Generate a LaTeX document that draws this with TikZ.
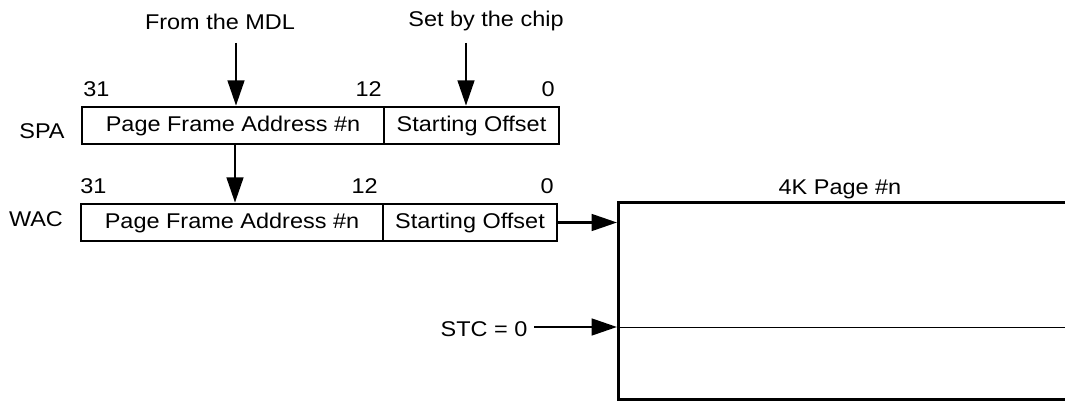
\documentclass[tikz,border=0pt]{standalone}
\usepackage{fontspec}
\setmainfont{Liberation Sans}[FakeStretch=1.1]
\usetikzlibrary{arrows.meta}
\begin{document}
\begin{tikzpicture}[x=0.75pt,y=-0.75pt,
  font=\fontsize{16pt}{19pt}\selectfont,
  field/.style={draw,line width=2pt,minimum height=27.75pt,inner sep=0pt},
  lbl/.style={inner sep=0pt},
  arr/.style={line width=1.9pt,-{Triangle[length=19pt,width=12.5pt]}},
  thin line/.style={line width=0.6pt}]
\useasboundingbox (0,0) rectangle (1065,403);
\clip (0,0) rectangle (1065,403);
% top labels
\node[lbl,anchor=base] (mdl) at (220,30) {From the MDL};
\node[lbl,anchor=base] (chip) at (486,27) {Set by the chip};
\coordinate (mdlTop) at (236,43);
\coordinate (chipTop) at (466,43);
% SPA register
\node[field,minimum width=226.5pt] (spaL) at (233,125.5) {Page Frame Address \#n};
\node[field,minimum width=131.25pt] (spaR) at (471.5,125.5) {Starting Offset};
\node[lbl,anchor=base] (spa) at (42,139) {SPA};
\node[lbl,anchor=base west] (s31) at (83,97) {31};
\node[lbl,anchor=base east] (s12) at (382,97) {12};
\node[lbl,anchor=base east] (s0) at (555,97) {0};
% WAC register
\node[field,minimum width=226.5pt] (wacL) at (232,222.5) {Page Frame Address \#n};
\node[field,minimum width=130.5pt] (wacR) at (470,222.5) {Starting Offset};
\node[lbl,anchor=base] (wac) at (36,226) {WAC};
\node[lbl,anchor=base west] (w31) at (80,193) {31};
\node[lbl,anchor=base east] (w12) at (378,193) {12};
\node[lbl,anchor=base east] (w0) at (554,193) {0};
% page
\node[draw,line width=2pt,minimum width=345pt,minimum height=147.75pt,anchor=north west,inner sep=0pt] (page) at (617,201) {};
\node[lbl,anchor=base] (pagelbl) at (840,195) {4K Page \#n};
\coordinate (stcLine) at (617,327);
\draw[thin line] (stcLine) -- (1070,327);
\node[lbl,anchor=base] (stc) at (484,336) {STC = 0};
% arrows
\draw[arr] (mdlTop) -- (mdlTop |- spaL.north);
\draw[arr] (chipTop) -- (chipTop |- spaR.north);
\draw[arr] (spaL.south -| 235,0) -- (wacL.north -| 235,0);
\draw[arr] (wacR.east) -- (page.west |- wacR.east);
\draw[arr] ([xshift=5pt]stc.east |- stcLine) -- (stcLine);
\end{tikzpicture}
\end{document}
